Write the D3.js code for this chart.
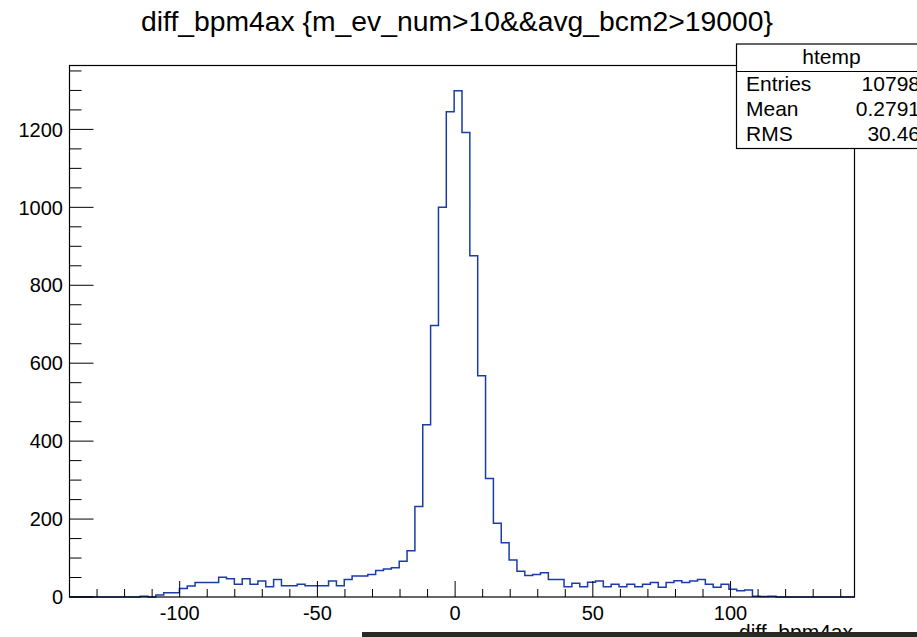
<!DOCTYPE html>
<html>
<head>
<meta charset="utf-8">
<script src="https://cdn.jsdelivr.net/npm/d3@7"></script>
<style>
  body { margin: 0; background: #fff; }
  svg { display: block; font-family: "Liberation Sans", Arial, Helvetica, sans-serif; }
</style>
</head>
<body>
<div id="chart"></div>
<script>
// ROOT-style histogram: diff_bpm4ax //
const width = 917;
const height = 637;

// histogram binning and contents (100 bins)
const xMin = -140;
const xMax = 145;
const nBins = 100;
const counts = [
  0, 0, 0, 0, 0, 0, 0, 0, 0, 2,
  0, 5, 11, 11, 22, 28, 37, 37, 37, 51,
  47, 33, 47, 33, 41, 26, 45, 29, 29, 33,
  29, 29, 29, 41, 29, 45, 54, 54, 58, 68,
  72, 75, 92, 119, 232, 442, 697, 1000, 1245, 1299,
  1192, 876, 568, 304, 189, 139, 95, 66, 55, 58,
  62, 45, 45, 26, 35, 26, 38, 41, 26, 33,
  26, 33, 26, 33, 37, 25, 37, 42, 37, 41,
  45, 33, 25, 33, 20, 16, 18, 2, 1, 2,
  0, 0, 0, 0, 0, 0, 0, 0, 0, 0
];
const yMax = 1364;
const xTicks = [-100, -50, 0, 50, 100];
const yTicks = [0, 200, 400, 600, 800, 1000, 1200];

const title = "diff_bpm4ax {m_ev_num>10&&avg_bcm2>19000}";
const xTitle = "diff_bpm4ax";
const statsName = "htemp";
const statsRows = [["Entries", "10798"], ["Mean", "0.2791"], ["RMS", "30.46"]];

const frame = { left: 69.5, right: 854.5, top: 65.5, bottom: 597 };

const svg = d3.select("#chart")
  .append("svg")
  .attr("width", width)
  .attr("height", height);

const x = d3.scaleLinear().domain([xMin, xMax]).range([frame.left, frame.right]);
const y = d3.scaleLinear().domain([0, yMax]).range([frame.bottom, frame.top]);

const binWidth = (xMax - xMin) / nBins;
const steps = counts.map((c, i) => [xMin + i * binWidth, c]);
steps.push([xMax, counts[counts.length - 1]]);

// histogram outline
svg.append("path")
  .datum(steps)
  .attr("fill", "none")
  .attr("stroke", "#1a3ca8")
  .attr("stroke-width", 1.5)
  .attr("d", d3.line()
    .x(d => x(d[0]))
    .y(d => y(d[1]))
    .curve(d3.curveStepAfter));

// x axis ticks
const xMinor = d3.range(-140, 141, 10);
svg.append("g")
  .selectAll("line")
  .data(xMinor)
  .enter()
  .append("line")
  .attr("x1", d => x(d)).attr("x2", d => x(d))
  .attr("y1", frame.bottom)
  .attr("y2", d => frame.bottom - (d % 50 === 0 ? 16 : 8))
  .attr("stroke", "#000")
  .attr("stroke-width", 1);

svg.append("g")
  .selectAll("text")
  .data(xTicks)
  .enter()
  .append("text")
  .attr("x", d => x(d))
  .attr("y", 620)
  .attr("text-anchor", "middle")
  .style("font-size", "20px")
  .text(d => d);

// y axis ticks
const yMinor = d3.range(0, 1351, 50);
svg.append("g")
  .selectAll("line")
  .data(yMinor)
  .enter()
  .append("line")
  .attr("x1", frame.left)
  .attr("x2", d => frame.left + (d % 200 === 0 ? 24 : 12))
  .attr("y1", d => y(d)).attr("y2", d => y(d))
  .attr("stroke", "#000")
  .attr("stroke-width", 1);

svg.append("g")
  .selectAll("text")
  .data(yTicks)
  .enter()
  .append("text")
  .attr("x", 63)
  .attr("y", d => y(d))
  .attr("dy", "0.36em")
  .attr("text-anchor", "end")
  .style("font-size", "20px")
  .text(d => d);

// frame
svg.append("rect")
  .attr("x", frame.left)
  .attr("y", frame.top)
  .attr("width", frame.right - frame.left)
  .attr("height", frame.bottom - frame.top)
  .attr("fill", "none")
  .attr("stroke", "#000")
  .attr("stroke-width", 1.2);

// title
svg.append("text")
  .attr("x", 457)
  .attr("y", 30.5)
  .attr("text-anchor", "middle")
  .style("font-size", "28.3px")
  .text(title);

// x axis title
svg.append("text")
  .attr("x", 853)
  .attr("y", 639)
  .attr("text-anchor", "end")
  .style("font-size", "21px")
  .text(xTitle);

// stats box
const box = { x: 736.5, y: 44, w: 190, h: 104.5 };
svg.append("rect")
  .attr("x", box.x).attr("y", box.y)
  .attr("width", box.w).attr("height", box.h)
  .attr("fill", "#fff")
  .attr("stroke", "#000")
  .attr("stroke-width", 1.2);
svg.append("line")
  .attr("x1", box.x).attr("x2", box.x + box.w)
  .attr("y1", 71.5).attr("y2", 71.5)
  .attr("stroke", "#000")
  .attr("stroke-width", 1.2);
svg.append("text")
  .attr("x", box.x + box.w / 2)
  .attr("y", 64)
  .attr("text-anchor", "middle")
  .style("font-size", "21px")
  .text(statsName);

const rowBase = [90.7, 116, 140.7];
statsRows.forEach((r, i) => {
  svg.append("text")
    .attr("x", 746)
    .attr("y", rowBase[i])
    .style("font-size", "21px")
    .text(r[0]);
  svg.append("text")
    .attr("x", 920)
    .attr("y", rowBase[i])
    .attr("text-anchor", "end")
    .style("font-size", "21px")
    .text(r[1]);
});

// dark strip along the bottom edge of the screenshot
svg.append("rect")
  .attr("x", 362).attr("y", 632)
  .attr("width", width - 362).attr("height", 5)
  .attr("fill", "#2b2824");
</script>
</body>
</html>
